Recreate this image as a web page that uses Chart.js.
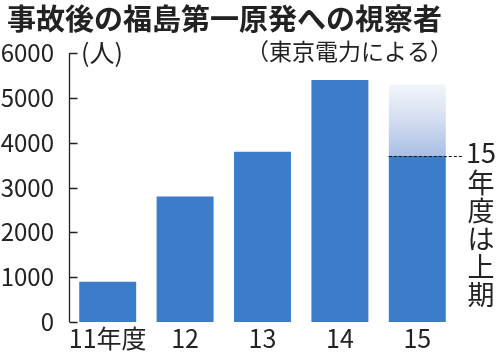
<!DOCTYPE html>
<html lang="ja">
<head>
<meta charset="utf-8">
<script src="https://cdn.jsdelivr.net/npm/chart.js@4"></script>
<style>
  html, body { margin: 0; padding: 0; background: #fff; }
  canvas { display: block; }
</style>
</head>
<body>
<canvas id="c" width="500" height="354"></canvas>
<script>
// データ
let years = ['11年度', '12', '13', '14', '15'];
let visitors = [900, 2800, 3800, 5400, 3700]; // 視察者数 (人)
let estimate15 = [3700, 5300]; // 15年度の見込み (グラデーション部分)
let yMax = 6000;
let yStep = 1000;

let titleText = '事故後の福島第一原発への視察者';
let unitText = '(人)';
let sourceText = '（東京電力による）';
let noteNum = '15';
let noteChars = ['年', '度', 'は', '上', '期'];

let fontJP = '"Noto Sans CJK JP", "Noto Sans", sans-serif';
let barColor = '#3b7dc9';

// 見込み部分のデータ (15年度のみ)
let estimateData = years.map((y, i) => i === years.length - 1 ? estimate15 : null);

// y 軸の線と内向きの目盛り
let axisPlugin = {
    id: 'axisLines',
    afterDraw(chart) {
        let c = chart.ctx;
        let ys = chart.scales.y;
        let x0 = Math.round(chart.chartArea.left) + 0.5;
        c.save();
        c.strokeStyle = '#222';
        c.lineWidth = 1.3;
        c.beginPath();
        c.moveTo(x0, ys.getPixelForValue(yMax));
        c.lineTo(x0, ys.getPixelForValue(0));
        ys.ticks.forEach(t => {
            let y = Math.round(ys.getPixelForValue(t.value)) + 0.5;
            c.moveTo(x0, y);
            c.lineTo(x0 + 8, y);
        });
        c.stroke();
        c.restore();
    }
};

// タイトル・注記・点線
let notePlugin = {
    id: 'notes',
    afterDraw(chart) {
        let c = chart.ctx;
        let ys = chart.scales.y;
        c.save();
        c.fillStyle = '#222';
        // タイトル
        c.font = 'bold 29px ' + fontJP;
        c.textBaseline = 'middle';
        c.textAlign = 'left';
        c.fillText(titleText, 7, 19);
        // 単位
        c.font = '25px ' + fontJP;
        c.fillText(unitText, 81, 52);
        // 出典
        c.font = '23px ' + fontJP;
        c.textAlign = 'right';
        c.fillText(sourceText, 453, 51);

        // 15年度上期の点線
        let bar = chart.getDatasetMeta(0).data[years.length - 1];
        let yLine = Math.round(ys.getPixelForValue(visitors[years.length - 1])) + 0.5;
        c.strokeStyle = '#111';
        c.lineWidth = 1.2;
        c.setLineDash([3, 2]);
        c.beginPath();
        c.moveTo(bar.x - bar.width / 2, yLine);
        c.lineTo(463, yLine);
        c.stroke();
        c.setLineDash([]);

        // 縦書きの注記
        c.font = '27px ' + fontJP;
        c.textAlign = 'center';
        c.fillText(noteNum, 481, yLine - 4);
        noteChars.forEach((ch, i) => {
            c.fillText(ch, 481, yLine + 26 + i * 28);
        });
        c.restore();
    }
};

let config = {
    type: 'bar',
    data: {
        labels: years,
        datasets: [{
            label: '視察者',
            data: visitors,
            backgroundColor: barColor,
            borderWidth: 0,
            grouped: false,
            order: 1
        }, {
            label: '見込み',
            data: estimateData,
            grouped: false,
            borderWidth: 0,
            order: 2,
            backgroundColor: function (ctx) {
                let chart = ctx.chart;
                if (!chart.chartArea) return 'rgba(59,125,201,0.3)';
                let ys = chart.scales.y;
                let g = chart.ctx.createLinearGradient(0, ys.getPixelForValue(estimate15[1]), 0, ys.getPixelForValue(estimate15[0]));
                g.addColorStop(0, '#f3f5fb');
                g.addColorStop(0.5, '#d3ddf0');
                g.addColorStop(1, '#a9bee3');
                return g;
            }
        }]
    },
    options: {
        responsive: false,
        animation: false,
        devicePixelRatio: 1,
        categoryPercentage: 1,
        barPercentage: 0.736,
        layout: {
            padding: { top: 53, right: 44, bottom: 0, left: 0 }
        },
        plugins: {
            legend: { display: false },
            tooltip: { enabled: false }
        },
        scales: {
            x: {
                grid: { display: false },
                border: { display: false },
                ticks: {
                    color: '#222',
                    padding: -7,
                    autoSkip: false,
                    maxRotation: 0,
                    minRotation: 0,
                    font: { family: fontJP, size: 25 }
                },
                afterFit(scale) { scale.height = 32; }
            },
            y: {
                min: 0,
                max: yMax,
                grid: { display: false },
                border: { display: false },
                ticks: {
                    stepSize: yStep,
                    color: '#222',
                    padding: 7,
                    font: { family: fontJP, size: 24 },
                    callback: function (value) {
                        return String(value); // カンマ区切りなし
                    }
                },
                afterFit(scale) { scale.width = 69; }
            }
        }
    },
    plugins: [axisPlugin, notePlugin]
};

let myChart = new Chart(document.getElementById('c'), config);
</script>
</body>
</html>
